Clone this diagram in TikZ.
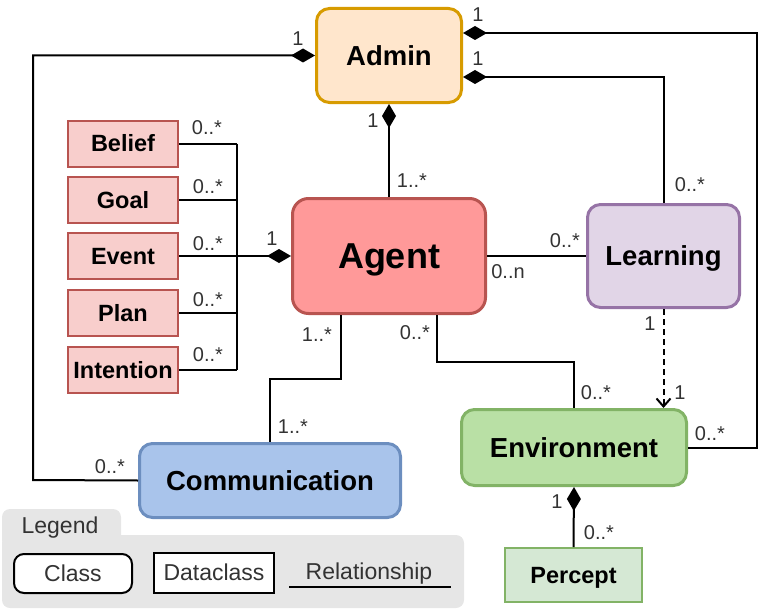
\documentclass[tikz,border=0pt]{standalone}
\usepackage{fontspec}
\setmainfont{Liberation Sans}
\usetikzlibrary{arrows.meta}
\definecolor{adminfill}{HTML}{FFE6CC}
\definecolor{admindraw}{HTML}{D79B00}
\definecolor{agentfill}{HTML}{FF9999}
\definecolor{agentdraw}{HTML}{B85450}
\definecolor{learnfill}{HTML}{E1D5E7}
\definecolor{learndraw}{HTML}{9673A6}
\definecolor{envfill}{HTML}{B9E0A5}
\definecolor{envdraw}{HTML}{82B366}
\definecolor{commfill}{HTML}{A9C4EB}
\definecolor{commdraw}{HTML}{6C8EBF}
\definecolor{dcfill}{HTML}{F8CECC}
\definecolor{dcdraw}{HTML}{B85450}
\definecolor{percfill}{HTML}{D5E8D4}
\definecolor{labc}{HTML}{333333}
\definecolor{leggrey}{HTML}{E6E6E6}
\begin{document}
\begin{tikzpicture}[x=1pt,y=-1pt,
  cls/.style={draw, line width=3pt, rounded corners=13pt, inner sep=0pt,
    text height=19.7pt, text depth=0pt,
    font=\fontsize{27.5}{30}\selectfont\bfseries},
  dcls/.style={draw=dcdraw, fill=dcfill, line width=2pt, inner sep=0pt,
    minimum width=110pt, minimum height=46pt, text height=16.8pt, text depth=0pt,
    font=\fontsize{23.5}{26}\selectfont\bfseries},
  lab/.style={text=labc, inner sep=0pt, font=\fontsize{20}{22}\selectfont},
  legtext/.style={text=labc, inner sep=0pt, text height=16.5pt, text depth=0pt,
    font=\fontsize{23}{25}\selectfont},
  conn/.style={line width=2pt},
  comp/.style={conn, {Diamond[length=24pt,width=14pt]}-},
  dep/.style={conn, dash pattern=on 6pt off 4pt, -{Straight Barb[length=8pt,width=14pt]}}
]
\useasboundingbox (0,0) rectangle (782,610);

% legend background
\fill[leggrey, rounded corners=8pt] (2,509) rectangle (121,548);
\fill[leggrey, rounded corners=8pt] (2,535) rectangle (464,608);
\node[legtext] (legtitle) at (60,525.5) {Legend};
\node[draw, line width=2pt, rounded corners=10pt, fill=white, minimum width=118pt, minimum height=39pt, legtext] (legclass) at (73,573.5) {Class};
\node[draw, line width=2pt, fill=white, minimum width=120pt, minimum height=40pt, legtext] (legdata) at (214,572.5) {Dataclass};
\node[legtext] (legrel) at (369,571) {Relationship};
\coordinate (r1) at (289,587);
\coordinate (r2) at (451,587);
\draw[conn] (r1) -- (r2);

% classes
\node[cls, draw=admindraw, fill=adminfill, minimum width=145pt, minimum height=94pt] (admin) at (389,55.5) {Admin};
\node[cls, draw=agentdraw, fill=agentfill, minimum width=193pt, minimum height=115pt, rounded corners=16pt,
  text height=25.8pt, font=\fontsize{36}{40}\selectfont\bfseries] (agent) at (389,256) {Agent};
\node[cls, draw=learndraw, fill=learnfill, minimum width=152pt, minimum height=103pt] (learn) at (663.5,256) {Learning};
\node[cls, draw=envdraw, fill=envfill, minimum width=225pt, minimum height=76pt] (env) at (574,447.5) {Environment};
\node[cls, draw=commdraw, fill=commfill, minimum width=261pt, minimum height=74pt] (comm) at (270,480.5) {Communication};

% dataclasses
\node[dcls] (belief) at (123,143.5) {Belief};
\node[dcls] (goal) at (123,200) {Goal};
\node[dcls] (event) at (123,256) {Event};
\node[dcls] (plan) at (123,313) {Plan};
\node[dcls] (intent) at (123,370) {Intention};
\node[dcls, draw=envdraw, fill=percfill, minimum width=137pt, minimum height=54pt] (percept) at (573.5,575) {Percept};

% helper coordinates
\coordinate (bus) at (237,256);
\coordinate (cl) at (33,480);
\coordinate (cr) at (757,33);
\coordinate (ce) at (437,362);
\coordinate (cc) at (341,379);

% dataclass bus
\draw[conn] (belief.east) -- (belief.east -| bus);
\draw[conn] (goal.east) -- (goal.east -| bus);
\draw[conn] (plan.east) -- (plan.east -| bus);
\draw[conn] (intent.east) -- (intent.east -| bus);
\draw[conn] (belief.east -| bus) -- (intent.east -| bus);
\draw[comp] (agent.west) -- (event.east);

% admin connections
\draw[comp] (admin.south) -- (agent.north);
\draw[comp] (admin.west) -| (cl) -- (comm.west);
\draw[comp] ([yshift=22.5pt]admin.east) -- (cr) |- (env.east);
\draw[comp] ([yshift=-21.5pt]admin.east) -| (learn.north);

% agent connections
\draw[conn] (agent.east) -- (learn.west);
\draw[conn] (ce |- agent.south) -- (ce) -| (env.north);
\draw[conn] (cc |- agent.south) -- (cc) -| (comm.north);
\draw[dep] (learn.south) -- (learn.south |- env.north);
\draw[comp] (env.south) -- (percept.north);

% multiplicity labels
\node[lab] (l1) at (298,39) {1};
\node[lab] (l2) at (478,15) {1};
\node[lab] (l3) at (478,59) {1};
\node[lab] (l4) at (690,185) {0..*};
\node[lab] (l5) at (373,121) {1};
\node[lab] (l6) at (412,181) {1..*};
\node[lab] (l7) at (207,128) {0..*};
\node[lab] (l8) at (208,187) {0..*};
\node[lab] (l9) at (208,244) {0..*};
\node[lab] (l10) at (208,300) {0..*};
\node[lab] (l11) at (208,355) {0..*};
\node[lab] (l12) at (272,239) {1};
\node[lab] (l13) at (317,335) {1..*};
\node[lab] (l14) at (565,241) {0..*};
\node[lab] (l15) at (508,272) {0..n};
\node[lab] (l16) at (415,333) {0..*};
\node[lab] (l17) at (650,324) {1};
\node[lab] (l18) at (596,393) {0..*};
\node[lab] (l19) at (680,393) {1};
\node[lab] (l20) at (710,434) {0..*};
\node[lab] (l21) at (293,427) {1..*};
\node[lab] (l22) at (110,467) {0..*};
\node[lab] (l23) at (557,502) {1};
\node[lab] (l24) at (599,533) {0..*};
\end{tikzpicture}
\end{document}
